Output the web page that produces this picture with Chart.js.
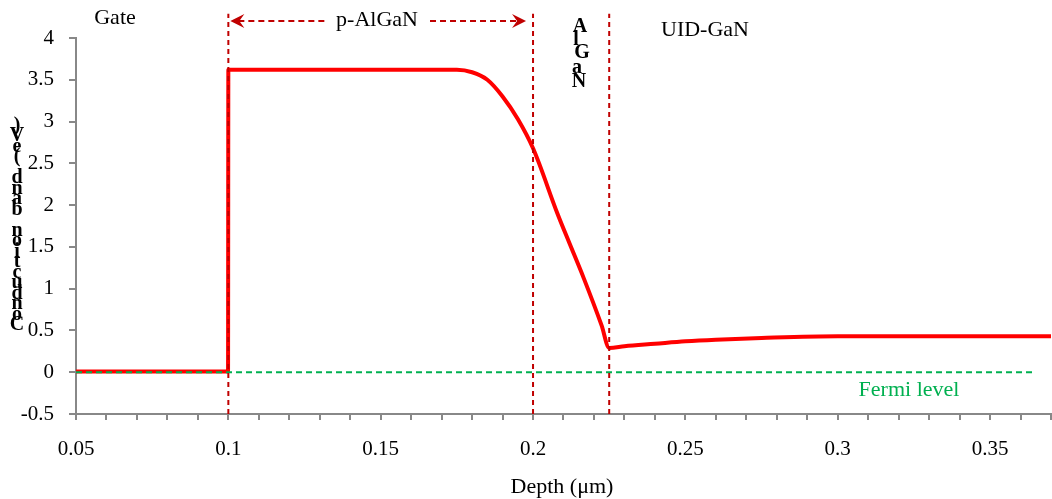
<!DOCTYPE html>
<html>
<head>
<meta charset="utf-8">
<script src="https://cdn.jsdelivr.net/npm/chart.js@4/dist/chart.umd.min.js"></script>
<style>
  html, body { margin: 0; padding: 0; background: #fff; }
  canvas { display: block; }
</style>
</head>
<body>
<canvas id="bandChart" width="1052" height="499"></canvas>
<script>
// conduction band profile
const depth = [0.05, 0.0999, 0.1, 0.175, 0.18, 0.185, 0.19, 0.195, 0.2, 0.208, 0.212, 0.2167, 0.2225, 0.225, 0.23, 0.24, 0.25, 0.26, 0.275, 0.3, 0.37];
const energy = [0.01, 0.01, 3.62, 3.62, 3.59, 3.5, 3.3, 3.03, 2.68, 1.9, 1.54, 1.12, 0.56, 0.29, 0.31, 0.34, 0.37, 0.39, 0.41, 0.43, 0.43];
// layer boundaries (um)
const boundaries = [0.1, 0.2, 0.225];
const fermiDepth = [0.05, 0.365];
const fermiLevel = [0, 0];
// axis ticks
const xMajor = [0.05, 0.1, 0.15, 0.2, 0.25, 0.3, 0.35];
const xMinorStep = 0.01;
const yTicks = [-0.5, 0, 0.5, 1, 1.5, 2, 2.5, 3, 3.5, 4];

const serif = "'Liberation Serif', 'Times New Roman', serif";
const darkRed = "#C00000";
const green = "#00B050";

const boundarySets = boundaries.map(b => ({
    data: [{ x: b, y: -0.5 }, { x: b, y: 4.29 }],
    borderColor: darkRed,
    borderWidth: 2,
    borderDash: [5, 4],
    pointRadius: 0,
    clip: false,
    order: 0
}));

// labels, arrows and the stacked titles
const annotations = {
    id: "annotations",
    afterDraw(chart) {
        const c = chart.ctx;
        const xs = chart.scales.x;
        c.save();
        c.fillStyle = "#000";
        c.textAlign = "center";
        c.textBaseline = "middle";
        c.font = "22px " + serif;
        c.fillText("Gate", 115, 18);
        c.fillText("p-AlGaN", 377, 20);
        c.fillText("UID-GaN", 705, 30);
        c.fillText("Depth (\u03bcm)", 562, 487);

        // p-AlGaN arrows
        const x1 = xs.getPixelForValue(boundaries[0]) + 2;
        const x2 = xs.getPixelForValue(boundaries[1]) - 7;
        const ay = 21;
        c.strokeStyle = darkRed;
        c.fillStyle = darkRed;
        c.lineWidth = 2;
        c.setLineDash([6, 4]);
        c.beginPath();
        c.moveTo(x1 + 8, ay); c.lineTo(328, ay);
        c.moveTo(430, ay); c.lineTo(x2 - 8, ay);
        c.stroke();
        c.setLineDash([]);
        c.beginPath();
        c.moveTo(x1, ay); c.lineTo(x1 + 14, ay - 7); c.lineTo(x1 + 9, ay); c.lineTo(x1 + 14, ay + 7);
        c.closePath(); c.fill();
        c.beginPath();
        c.moveTo(x2, ay); c.lineTo(x2 - 14, ay - 7); c.lineTo(x2 - 9, ay); c.lineTo(x2 - 14, ay + 7);
        c.closePath(); c.fill();

        // Fermi level label
        c.fillStyle = green;
        c.font = "22px " + serif;
        c.fillText("Fermi level", 909, 390);

        // stacked AlGaN
        c.fillStyle = "#000";
        c.font = "bold 20px " + serif;
        const al = ["A", "l", "G", "a", "N"];
        const alY = [27, 40, 53, 68, 82];
        const alX = [580, 576, 582, 577, 579];
        al.forEach((ch, i) => c.fillText(ch, alX[i], alY[i]));

        // stacked y title, bottom to top
        const title = "Conduction band (eV)";
        c.font = "bold 20px " + serif;
        for (let i = 0; i < title.length; i++) {
            c.fillText(title[i], 17, 325 - i * 10.5);
        }
        c.restore();
    }
};

new Chart(document.getElementById("bandChart"), {
    type: "line",
    data: {
        datasets: [
            ...boundarySets,
            {
                data: fermiDepth.map((d, i) => ({ x: d, y: fermiLevel[i] })),
                borderColor: green,
                borderWidth: 2,
                borderDash: [6, 4],
                pointRadius: 0,
                order: 1
            },
            {
                data: depth.map((d, i) => ({ x: d, y: energy[i] })),
                borderColor: "#FF0000",
                borderWidth: 4,
                pointRadius: 0,
                cubicInterpolationMode: "monotone",
                borderJoinStyle: "round",
                order: 2
            }
        ]
    },
    plugins: [annotations],
    options: {
        responsive: false,
        animation: false,
        devicePixelRatio: 1,
        layout: { padding: { top: 38, right: 1, left: 0, bottom: 0 } },
        plugins: { legend: { display: false }, tooltip: { enabled: false } },
        scales: {
            x: {
                type: "linear",
                min: 0.05,
                max: 0.37,
                afterBuildTicks(scale) {
                    const t = [];
                    for (let v = 0.05; v <= 0.3701; v += xMinorStep) t.push({ value: Math.round(v * 100) / 100 });
                    scale.ticks = t;
                },
                afterFit(scale) {
                    scale.height = 85;
                    scale.paddingLeft = 0;
                    scale.paddingRight = 0;
                },
                border: { color: "#888", width: 2 },
                grid: { drawOnChartArea: false, drawTicks: true, tickLength: 6, color: "#888", lineWidth: 2 },
                ticks: {
                    autoSkip: false,
                    maxRotation: 0,
                    padding: 17,
                    color: "#000",
                    font: { family: serif, size: 21 },
                    callback: v => xMajor.some(m => Math.abs(m - v) < 1e-6) ? String(Math.round(v * 100) / 100) : ""
                }
            },
            y: {
                min: -0.5,
                max: 4,
                afterBuildTicks(scale) { scale.ticks = yTicks.map(v => ({ value: v })); },
                afterFit(scale) {
                    scale.width = 76;
                    scale.paddingTop = 0;
                    scale.paddingBottom = 0;
                },
                border: { color: "#888", width: 2 },
                grid: { drawOnChartArea: false, drawTicks: true, tickLength: 7, color: "#888", lineWidth: 2 },
                ticks: {
                    padding: 15,
                    color: "#000",
                    font: { family: serif, size: 21 },
                    callback: v => String(v)
                }
            }
        }
    }
});
</script>
</body>
</html>
